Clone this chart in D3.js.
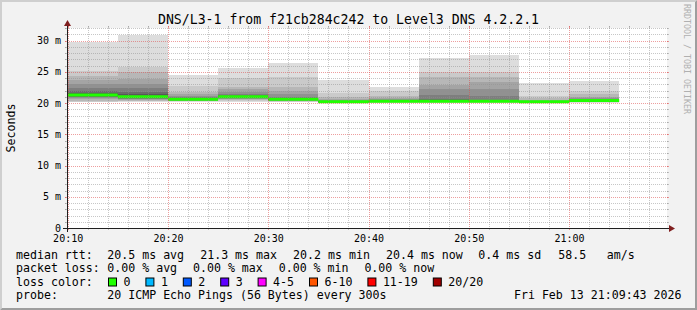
<!DOCTYPE html>
<html>
<head>
<meta charset="utf-8">
<script src="https://cdn.jsdelivr.net/npm/d3@7"></script>
<style>
  body { margin: 0; background: #f2f2f2; }
  text { font-family: "DejaVu Sans Mono", monospace; fill: #000; }
</style>
</head>
<body>
<svg id="chart" width="697" height="310"></svg>
<script>
var title = "DNS/L3-1 from f21cb284c242 to Level3 DNS 4.2.2.1";
var yLabel = "Seconds";
var watermark = "RRDTOOL / TOBI OETIKER";

// end time of each 5 minute step
var binEnds = ["20:15", "20:20", "20:25", "20:30", "20:35", "20:40",
               "20:45", "20:50", "20:55", "21:00", "21:05"];

// 20 sorted ping rtts (ms) per step
var pings = [
  [20.1, 20.2, 20.4, 20.6, 20.8, 20.9, 21.0, 21.1, 21.2, 21.3, 21.3, 21.4, 21.6, 21.9, 22.4, 23.0, 23.7, 24.4, 25.1, 29.7],
  [20.1, 20.25, 20.4, 20.5, 20.6, 20.7, 20.8, 20.85, 20.9, 21.0, 21.0, 21.1, 21.4, 21.8, 22.4, 23.0, 23.8, 24.9, 25.8, 30.9],
  [20.2, 20.25, 20.3, 20.35, 20.4, 20.45, 20.5, 20.5, 20.55, 20.6, 20.6, 20.65, 20.7, 20.75, 20.9, 21.1, 21.4, 21.8, 22.7, 24.5],
  [20.2, 20.35, 20.5, 20.6, 20.7, 20.8, 20.85, 20.9, 20.95, 21.0, 21.0, 21.05, 21.15, 21.3, 21.5, 21.8, 22.3, 22.6, 24.0, 25.6],
  [20.1, 20.2, 20.3, 20.35, 20.4, 20.45, 20.5, 20.5, 20.55, 20.6, 20.6, 20.65, 20.7, 20.8, 21.0, 21.4, 21.9, 22.6, 24.2, 26.4],
  [19.95, 20.0, 20.0, 20.05, 20.05, 20.1, 20.1, 20.15, 20.15, 20.2, 20.2, 20.2, 20.25, 20.3, 20.35, 20.45, 20.6, 21.0, 21.6, 23.7],
  [20.0, 20.05, 20.1, 20.1, 20.15, 20.2, 20.2, 20.25, 20.25, 20.3, 20.3, 20.3, 20.35, 20.4, 20.5, 20.6, 20.8, 21.1, 21.9, 22.6],
  [20.0, 20.05, 20.1, 20.1, 20.15, 20.2, 20.2, 20.25, 20.25, 20.3, 20.3, 20.35, 20.45, 20.6, 21.3, 22.2, 22.9, 24.2, 25.0, 27.2],
  [20.0, 20.05, 20.1, 20.1, 20.15, 20.2, 20.2, 20.25, 20.25, 20.3, 20.3, 20.35, 20.4, 20.5, 21.1, 22.2, 23.3, 24.2, 25.0, 27.7],
  [19.95, 20.0, 20.0, 20.05, 20.05, 20.1, 20.1, 20.15, 20.15, 20.2, 20.2, 20.2, 20.25, 20.3, 20.35, 20.4, 20.5, 20.8, 21.05, 23.2],
  [20.05, 20.1, 20.15, 20.2, 20.25, 20.3, 20.3, 20.35, 20.35, 20.4, 20.4, 20.45, 20.5, 20.55, 20.65, 20.8, 21.0, 21.4, 21.9, 23.5]
];

var xTickLabels = ["20:10", "20:20", "20:30", "20:40", "20:50", "21:00"];
var yTicks = [0, 5, 10, 15, 20, 25, 30];

// legend values
var rttStats = [20.5, 21.3, 20.2, 20.4];
var rttNames = ["avg", "max", "min", "now"];
var rttSd = 0.4;
var amS = 58.5;
var lossStats = [0, 0, 0, 0];
var lossNames = ["avg", "max", "min", "now"];
var lossLabels = ["0", "1", "2", "3", "4-5", "6-10", "11-19", "20/20"];
var lossColors = ["#20ff00", "#00b8ff", "#0059ff", "#5e00ff", "#ff00ff", "#ff5500", "#ff0000", "#a10000"];
var probeText = "20 ICMP Echo Pings (56 Bytes) every 300s";
var stamp = "Fri Feb 13 21:09:43 2026";

var W = 697, H = 310;
var X0 = 67, X1 = 667, Y0 = 28, Y1 = 228;
var parseT = function(s) { return d3.timeParse(s.length > 5 ? "%H:%M:%S" : "%H:%M")(s); };

var svg = d3.select("#chart");

// background + rrdtool shade frame
svg.append("rect").attr("width", W).attr("height", H).attr("fill", "#f2f2f2");
svg.append("polygon")
  .attr("points", [[0,0],[W,0],[W-2,2],[2,2],[2,H-2],[0,H]].join(" "))
  .attr("fill", "#cfcfcf");
svg.append("polygon")
  .attr("points", [[2,H-2],[W-2,H-2],[W-2,2],[W,0],[W,H],[0,H]].join(" "))
  .attr("fill", "#9e9e9e");
svg.append("rect").attr("x", X0).attr("y", Y0).attr("width", X1 - X0).attr("height", Y1 - Y0).attr("fill", "#fff");

var x = d3.scaleTime()
  .domain([parseT("20:09:56"), parseT("21:09:46")])
  .range([X0, X1]);
var y = d3.scaleLinear().domain([0, 32]).range([Y1, Y0]);

var bins = binEnds.map(function(e, i) {
  var end = parseT(e);
  var start = d3.timeMinute.offset(end, -5);
  if (start < x.domain()[0]) start = x.domain()[0];
  return {start: start, end: end, p: pings[i], med: d3.median(pings[i])};
});

// smoke: outer pairs light, inner pairs dark
var half = 10;
var smoke = svg.append("g").attr("shape-rendering", "crispEdges");
bins.forEach(function(b) {
  for (var i = 0; i < half; i++) {
    var c = Math.floor(190 / half * (half - i - 1)) + 50;
    smoke.append("rect")
      .attr("x", x(b.start))
      .attr("width", x(b.end) - x(b.start))
      .attr("y", y(b.p[19 - i]))
      .attr("height", y(b.p[i]) - y(b.p[19 - i]))
      .attr("fill", d3.rgb(c, c, c));
  }
});

// median line
svg.append("g").selectAll("line").data(bins).join("line")
  .attr("x1", function(d) { return x(d.start); })
  .attr("x2", function(d) { return x(d.end); })
  .attr("y1", function(d) { return y(d.med); })
  .attr("y2", function(d) { return y(d.med); })
  .attr("stroke", lossColors[0])
  .attr("stroke-width", 3);

// grid
var gridCol = "rgba(143,143,143,0.5)", mgridCol = "rgba(222,79,79,0.55)";
var grid = svg.append("g").attr("shape-rendering", "crispEdges");
var minorY = d3.range(0, 33).filter(function(v) { return yTicks.indexOf(v) < 0; });
var majorX = xTickLabels.map(parseT);
var minorX = d3.timeMinute.every(2).range(x.domain()[0], x.domain()[1])
  .filter(function(t) { return t.getMinutes() % 10 !== 0; });

function hline(v, col) {
  var yy = Math.round(y(v)) + 0.5;
  grid.append("line").attr("x1", X0 - 2).attr("x2", X1 + 2).attr("y1", yy).attr("y2", yy)
    .attr("stroke", col).attr("stroke-dasharray", "1,1");
  grid.append("line").attr("x1", X0 - 2).attr("x2", X0).attr("y1", yy).attr("y2", yy).attr("stroke", col);
  grid.append("line").attr("x1", X1).attr("x2", X1 + 2).attr("y1", yy).attr("y2", yy).attr("stroke", col);
}
function vline(t, col) {
  var xx = Math.round(x(t)) + 0.5;
  grid.append("line").attr("y1", Y0 - 2).attr("y2", Y1 + 2).attr("x1", xx).attr("x2", xx)
    .attr("stroke", col).attr("stroke-dasharray", "1,1");
  grid.append("line").attr("y1", Y1).attr("y2", Y1 + 2).attr("x1", xx).attr("x2", xx).attr("stroke", col);
  grid.append("line").attr("y1", Y0 - 2).attr("y2", Y0).attr("x1", xx).attr("x2", xx).attr("stroke", col);
}
minorY.forEach(function(v) { hline(v, gridCol); });
minorX.forEach(function(t) { vline(t, gridCol); });
yTicks.forEach(function(v) { hline(v, mgridCol); });
majorX.forEach(function(t) { vline(t, mgridCol); });

// axes
var xAxis = d3.axisBottom(x).tickValues(majorX).tickFormat(d3.timeFormat("%H:%M")).tickSize(0).tickPadding(7);
var gx = svg.append("g").attr("transform", "translate(0," + Y1 + ")").call(xAxis);
gx.select(".domain").remove();
gx.selectAll("text").attr("font-size", "10px").attr("font-family", "DejaVu Sans Mono").style("fill", "#000");

var yAxis = d3.axisLeft(y).tickValues(yTicks)
  .tickFormat(function(d) { return d === 0 ? "0" : d + " m"; }).tickSize(0).tickPadding(6);
var gy = svg.append("g").attr("transform", "translate(" + X0 + ",0)").call(yAxis);
gy.select(".domain").remove();
gy.selectAll("text").attr("font-size", "10px").attr("font-family", "DejaVu Sans Mono").style("fill", "#000");

svg.append("line").attr("x1", X0 - 4).attr("x2", X1 + 4).attr("y1", Y1 + 0.5).attr("y2", Y1 + 0.5)
  .attr("stroke", "#1f1f1f");
svg.append("line").attr("x1", X0 + 0.5).attr("x2", X0 + 0.5).attr("y1", Y1 + 4).attr("y2", Y0 - 4)
  .attr("stroke", "#1f1f1f");
svg.append("polygon")
  .attr("points", [[X1 + 2, Y1 - 3], [X1 + 2, Y1 + 4], [X1 + 8, Y1 + 0.5]].join(" "))
  .attr("fill", "#801f1f");
svg.append("polygon")
  .attr("points", [[X0 - 3, Y0 - 2], [X0 + 4, Y0 - 2], [X0 + 0.5, Y0 - 8]].join(" "))
  .attr("fill", "#801f1f");

// titles
svg.append("text").attr("x", W / 2).attr("y", 24).attr("text-anchor", "middle")
  .attr("font-size", "13.2px").text(title);
svg.append("text").attr("transform", "translate(15,128) rotate(-90)").attr("text-anchor", "middle")
  .attr("font-size", "11.6px").text(yLabel);
svg.append("text").attr("transform", "translate(684,4) rotate(90)")
  .attr("font-size", "8.3px").style("fill", "#b0b0b0").text(watermark);

// legend
var lg = svg.append("g").attr("font-size", "11.6px").attr("xml:space", "preserve");
var rows = [259, 272.3, 285.7, 299];
lg.append("text").attr("x", 16).attr("y", rows[0]).text("median rtt:");
rttStats.forEach(function(v, i) {
  lg.append("text").attr("x", 107.3 + i * 92.9).attr("y", rows[0]).text(v.toFixed(1) + " ms " + rttNames[i]);
});
lg.append("text").attr("x", 478.3).attr("y", rows[0]).text(rttSd.toFixed(1) + " ms sd");
lg.append("text").attr("x", 558.3).attr("y", rows[0]).text(amS.toFixed(1));
lg.append("text").attr("x", 606.7).attr("y", rows[0]).text("am/s");

lg.append("text").attr("x", 16).attr("y", rows[1]).text("packet loss:");
lossStats.forEach(function(v, i) {
  lg.append("text").attr("x", 107.3 + i * 85.7).attr("y", rows[1]).text(v.toFixed(2) + " % " + lossNames[i]);
});

lg.append("text").attr("x", 16).attr("y", rows[2]).text("loss color:");
var bx = 108.5;
lossLabels.forEach(function(l, i) {
  lg.append("rect").attr("x", bx).attr("y", 278).attr("width", 8).attr("height", 8)
    .attr("fill", lossColors[i]).attr("stroke", "#000").attr("stroke-width", 1);
  lg.append("text").attr("x", bx + 15).attr("y", rows[2]).text(l);
  bx = bx + 15 + l.length * 7 + 15.4;
});

lg.append("text").attr("x", 16).attr("y", rows[3]).text("probe:");
lg.append("text").attr("x", 107.3).attr("y", rows[3]).text(probeText);
lg.append("text").attr("x", 681.5).attr("y", rows[3]).attr("text-anchor", "end").text(stamp);
</script>
</body>
</html>
